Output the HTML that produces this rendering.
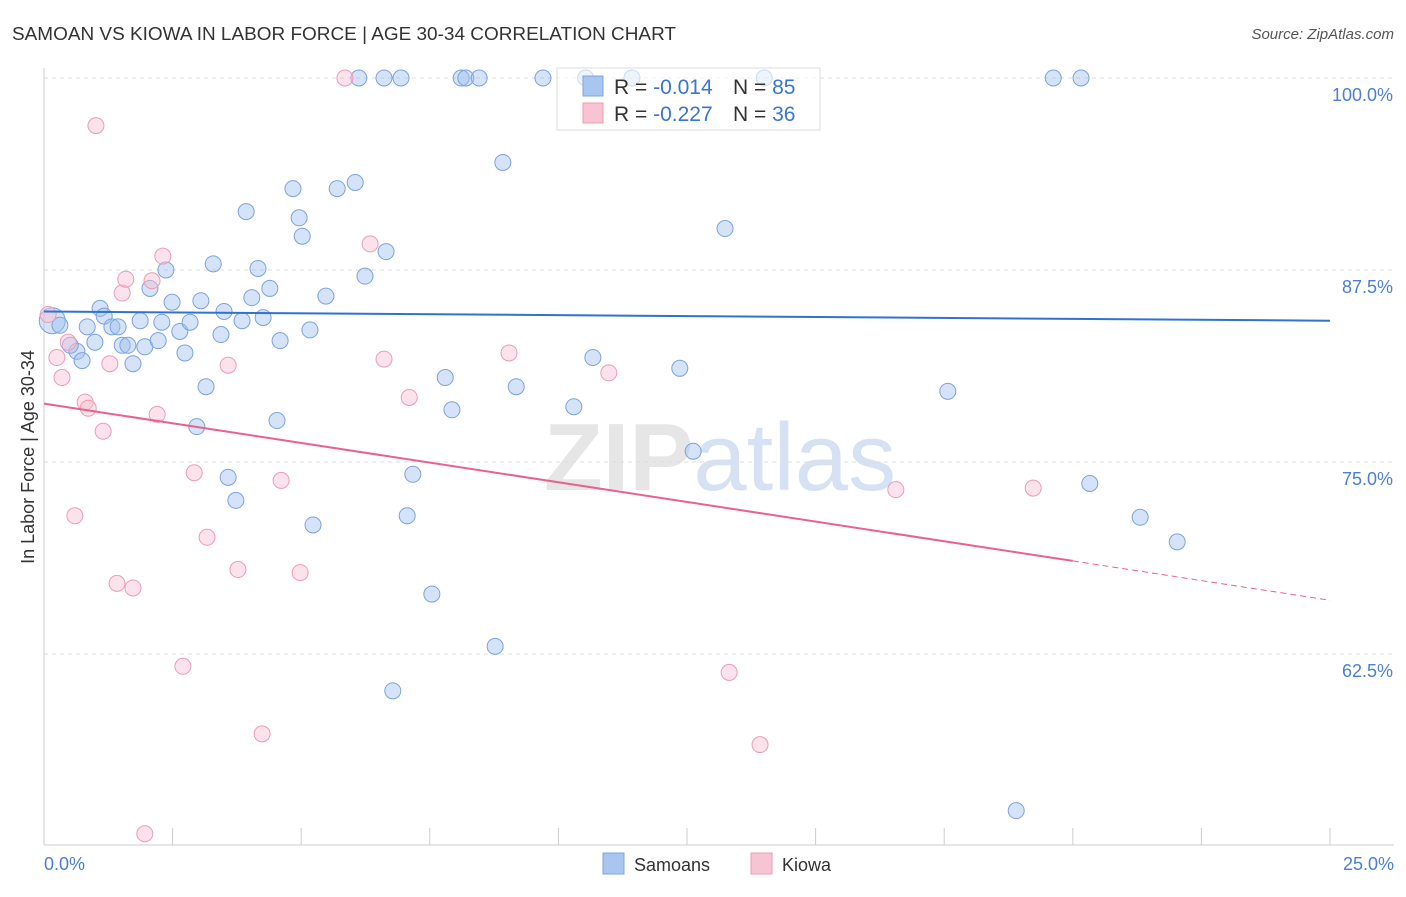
<!DOCTYPE html>
<html><head><meta charset="utf-8"><style>
body{margin:0;background:#fff;font-family:"Liberation Sans",sans-serif}
svg text{font-family:"Liberation Sans",sans-serif}
</style></head><body>
<svg id="chart" width="1406" height="892" xmlns="http://www.w3.org/2000/svg">
<text x="12" y="40" font-size="18" fill="#333" textLength="664" lengthAdjust="spacingAndGlyphs">SAMOAN VS KIOWA IN LABOR FORCE | AGE 30-34 CORRELATION CHART</text>
<text x="1394" y="39" font-size="15" fill="#555" text-anchor="end" font-style="italic">Source: ZipAtlas.com</text>
<text x="720" y="490" font-size="96" fill="#e6e6e6" text-anchor="middle" font-family="Liberation Serif"><tspan font-weight="bold">ZIP</tspan><tspan fill="#d6e2f3" font-family="Liberation Sans">atlas</tspan></text>
<g id="grid"></g>
<g id="axes"></g>
<g id="pts"></g>
<g id="trend"></g>
<text transform="translate(34,457) rotate(-90)" font-size="18" fill="#333" text-anchor="middle">In Labor Force | Age 30-34</text>
<text x="44" y="870" font-size="18" fill="#4a7fd4">0.0%</text>
<text x="1394" y="870" font-size="18" fill="#4a7fd4" text-anchor="end">25.0%</text>
<g>
<rect x="557" y="68" width="263" height="62" fill="rgba(255,255,255,0.6)" stroke="#ddd"/>
<rect x="583" y="76" width="20" height="20" fill="#a9c6f0" stroke="#7ba3e0"/>
<rect x="583" y="103" width="20" height="20" fill="#f8c3d3" stroke="#ee9cb6"/>
<text x="614" y="94" font-size="21" fill="#333">R = <tspan fill="#3a74d6">-0.014</tspan></text>
<text x="733" y="94" font-size="21" fill="#333">N = <tspan fill="#3a74d6">85</tspan></text>
<text x="614" y="121" font-size="21" fill="#333">R = <tspan fill="#3a74d6">-0.227</tspan></text>
<text x="733" y="121" font-size="21" fill="#333">N = <tspan fill="#3a74d6">36</tspan></text>
</g>
<g>
<rect x="603" y="853" width="21" height="21" fill="#a9c6f0" stroke="#7ba3e0"/>
<text x="634" y="871" font-size="18" fill="#333">Samoans</text>
<rect x="751" y="853" width="21" height="21" fill="#f8c3d3" stroke="#ee9cb6"/>
<text x="782" y="871" font-size="18" fill="#333">Kiowa</text>
</g>
</svg>
<script>
const yTicks=[100,87.5,75,62.5];
const yTickLabels=["100.0%","87.5%","75.0%","62.5%"];
const xTicks=[0,2.5,5,7.5,10,12.5,15,17.5,20,22.5,25];
const samoanX=[0.16,0.31,0.84,1.09,1.17,1.32,1.44,0.99,0.64,0.74,0.51,1.52,1.63,1.73,1.87,1.96,2.06,2.22,2.29,2.37,2.49,2.64,2.74,2.84,2.97,3.05,3.15,3.29,3.44,3.50,3.58,3.73,3.85,3.93,4.04,4.16,4.26,4.39,4.53,4.59,4.84,4.96,5.02,5.17,5.23,5.48,5.70,6.05,6.24,6.65,6.78,7.06,7.17,7.54,7.80,7.93,8.77,8.92,9.18,10.30,10.67,12.36,12.62,13.24,17.57,18.90,20.33,21.31,22.03,6.12,6.61,6.94,8.11,8.20,8.46,9.70,10.53,11.43,14.0,19.62,20.16];
const samoanY=[84.2,83.9,83.8,85.0,84.5,83.8,83.8,82.8,82.2,81.6,82.6,82.6,82.6,81.4,84.2,82.5,86.3,82.9,84.1,87.5,85.4,83.5,82.1,84.1,77.3,85.5,79.9,87.9,83.3,84.8,74.0,72.5,84.2,91.3,85.7,87.6,84.4,86.3,77.7,82.9,92.8,90.9,89.7,83.6,70.9,85.8,92.8,93.2,87.1,88.7,60.1,71.5,74.2,66.4,80.5,78.4,63.0,94.5,79.9,78.6,81.8,81.1,75.7,90.2,79.6,52.3,73.6,71.4,69.8,100,100,100,100,100,100,100,100,100,100,100,100];
const kiowaX=[0.08,0.25,0.35,0.47,0.60,0.80,0.86,1.01,1.15,1.28,1.42,1.52,1.59,1.73,1.96,2.10,2.20,2.31,2.70,2.92,3.17,3.58,3.77,4.24,4.61,4.98,5.85,6.34,6.61,7.10,9.04,10.98,13.32,13.92,16.56,19.23];
const kiowaY=[84.6,81.8,80.5,82.8,71.5,78.9,78.5,96.9,77.0,81.4,67.1,86.0,86.9,66.8,50.8,86.8,78.1,88.4,61.7,74.3,70.1,81.3,68.0,57.3,73.8,67.8,100,89.2,81.7,79.2,82.1,80.8,61.3,56.6,73.2,73.3];
const samoanTrend=[84.8,84.2];
const kiowaTrend=[78.8,66.0];
const kiowaSolidEnd=20;
const NS="http://www.w3.org/2000/svg";
const X=v=>44+v*51.44;
const Y=v=>78+(100-v)*15.36;
function mk(tag,attrs,parent){const e=document.createElementNS(NS,tag);for(const k in attrs)e.setAttribute(k,attrs[k]);parent.appendChild(e);return e;}
const grid=document.getElementById('grid'),axes=document.getElementById('axes'),pts=document.getElementById('pts'),trend=document.getElementById('trend');
yTicks.forEach((t,i)=>{
 const l=mk('line',{x1:44,x2:1394,y1:Y(t),y2:Y(t),stroke:'#ddd','stroke-dasharray':'4,4'},grid);
 
 
 const tx=mk('text',{x:1393,y:Y(t)+23,'font-size':18,fill:'#4a7fd4','text-anchor':'end'},axes);
 tx.textContent=yTickLabels[i];
 
 
});
const la=mk('line',{x1:44,x2:44,y1:68,y2:845,stroke:'#ccc'},axes);


const lb=mk('line',{x1:44,x2:1394,y1:845,y2:845,stroke:'#ccc'},axes);


xTicks.forEach(t=>{
 const l=mk('line',{x1:X(t),x2:X(t),y1:828,y2:845,stroke:'#ccc'},axes);
 
 
});
samoanX.forEach((x,i)=>{
 const r=(i===0)?13:8;
 const c=mk('circle',{cx:X(x),cy:Y(samoanY[i]),r:r,fill:'rgba(160,192,238,0.45)',stroke:'#7ba3e0','stroke-width':1},pts);
 
 
});
kiowaX.forEach((x,i)=>{
 const c=mk('circle',{cx:X(x),cy:Y(kiowaY[i]),r:8,fill:'rgba(248,190,208,0.45)',stroke:'#ee9cb6','stroke-width':1},pts);
 
 
});
const bl=mk('line',{x1:X(0),y1:Y(samoanTrend[0]),x2:X(25),y2:Y(samoanTrend[1]),stroke:'#2f72d6','stroke-width':2},trend);


const kAt=x=>kiowaTrend[0]+(kiowaTrend[1]-kiowaTrend[0])*x/25;
const pl=mk('line',{x1:X(0),y1:Y(kiowaTrend[0]),x2:X(kiowaSolidEnd),y2:Y(kAt(kiowaSolidEnd)),stroke:'#e8628f','stroke-width':2},trend);


const pd=mk('line',{x1:X(kiowaSolidEnd),y1:Y(kAt(kiowaSolidEnd)),x2:X(25),y2:Y(kiowaTrend[1]),stroke:'#e8628f','stroke-width':1,'stroke-dasharray':'6,4'},trend);


</script>
</body></html>
